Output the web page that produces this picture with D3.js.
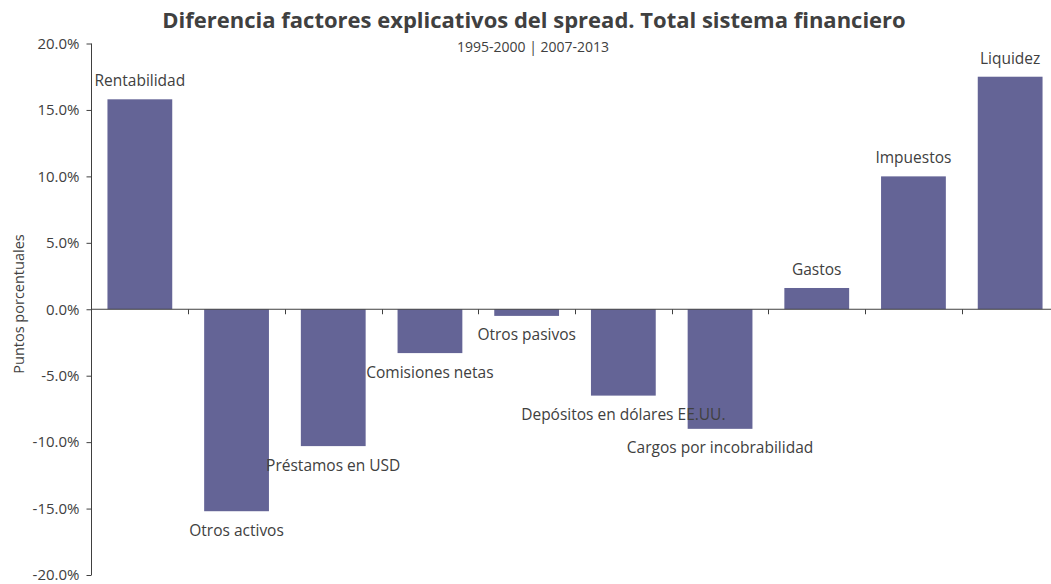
<!DOCTYPE html>
<html>
<head>
<meta charset="utf-8">
<script src="https://d3js.org/d3.v7.min.js"></script>
<style>
body { margin: 0; background: #fff; }
text { font-family: "Open Sans", sans-serif; fill: #404040; }
.axis path, .axis line { stroke: #404040; }
</style>
</head>
<body>
<div id="chart"></div>
<script>
var categories = ["Rentabilidad", "Otros activos", "Préstamos en USD", "Comisiones netas", "Otros pasivos",
  "Depósitos en dólares EE.UU.", "Cargos por incobrabilidad", "Gastos", "Impuestos", "Liquidez"];
var values = [15.8, -15.2, -10.3, -3.3, -0.5, -6.5, -9.0, 1.6, 10.0, 17.5];
var yTicks = [-20, -15, -10, -5, 0, 5, 10, 15, 20];

var width = 1051, height = 584;
var svg = d3.select("#chart").append("svg")
  .attr("width", width)
  .attr("height", height);

var x = d3.scaleBand()
  .domain(categories)
  .range([91.5, 1058.5])
  .paddingInner(0.33)
  .paddingOuter(0.165);

var y = d3.scaleLinear()
  .domain([-20, 20])
  .range([575, 43.5]);

// title
svg.append("text")
  .attr("x", 534).attr("y", 28)
  .attr("text-anchor", "middle")
  .style("font-size", "22px")
  .style("font-weight", "bold")
  .text("Diferencia factores explicativos del spread. Total sistema financiero");

svg.append("text")
  .attr("x", 533).attr("y", 52)
  .attr("text-anchor", "middle")
  .style("font-size", "14px")
  .text("1995-2000 | 2007-2013");

// bars
svg.append("g")
  .selectAll("rect")
  .data(values)
  .enter().append("rect")
  .attr("x", function(d, i) { return x(categories[i]); })
  .attr("width", x.bandwidth())
  .attr("y", function(d) { return y(Math.max(0, d)); })
  .attr("height", function(d) { return Math.abs(y(d) - y(0)); })
  .attr("fill", "#646496");

// y axis
var yAxis = svg.append("g")
  .attr("class", "axis")
  .attr("transform", "translate(91.5,0)")
  .call(d3.axisLeft(y).tickValues(yTicks).tickSize(5).tickSizeOuter(0)
    .tickFormat(function(d) { return d.toFixed(1) + "%"; }));
yAxis.select(".domain").attr("d", "M0," + y(-20) + "V" + y(20));
yAxis.selectAll("text")
  .style("font-size", "15px")
  .style("font-family", "'Open Sans', sans-serif")
  .attr("fill", "#404040")
  .attr("x", -12);

// x axis line at zero with ticks between categories
var xAxis = svg.append("g").attr("class", "axis");
xAxis.append("line")
  .attr("x1", 91.5).attr("x2", 1058.5)
  .attr("y1", y(0)).attr("y2", y(0));
xAxis.selectAll(".xtick")
  .data(categories)
  .enter().append("line")
  .attr("class", "xtick")
  .attr("x1", function(d) { return Math.round(x(d) - x.step() * x.paddingOuter() + x.step()) + 0.5; })
  .attr("x2", function(d) { return Math.round(x(d) - x.step() * x.paddingOuter() + x.step()) + 0.5; })
  .attr("y1", y(0))
  .attr("y2", y(0) + 5);

// category labels at bar ends
svg.append("g")
  .selectAll("text")
  .data(values)
  .enter().append("text")
  .attr("x", function(d, i) { return x(categories[i]) + x.bandwidth() / 2; })
  .attr("y", function(d) { return d >= 0 ? y(d) - 13 : y(d) + 24.5; })
  .attr("text-anchor", "middle")
  .style("font-size", "15.5px")
  .text(function(d, i) { return categories[i]; });

// y axis title
svg.append("text")
  .attr("transform", "translate(24,304) rotate(-90)")
  .attr("text-anchor", "middle")
  .style("font-size", "14.5px")
  .text("Puntos porcentuales");
</script>
</body>
</html>
